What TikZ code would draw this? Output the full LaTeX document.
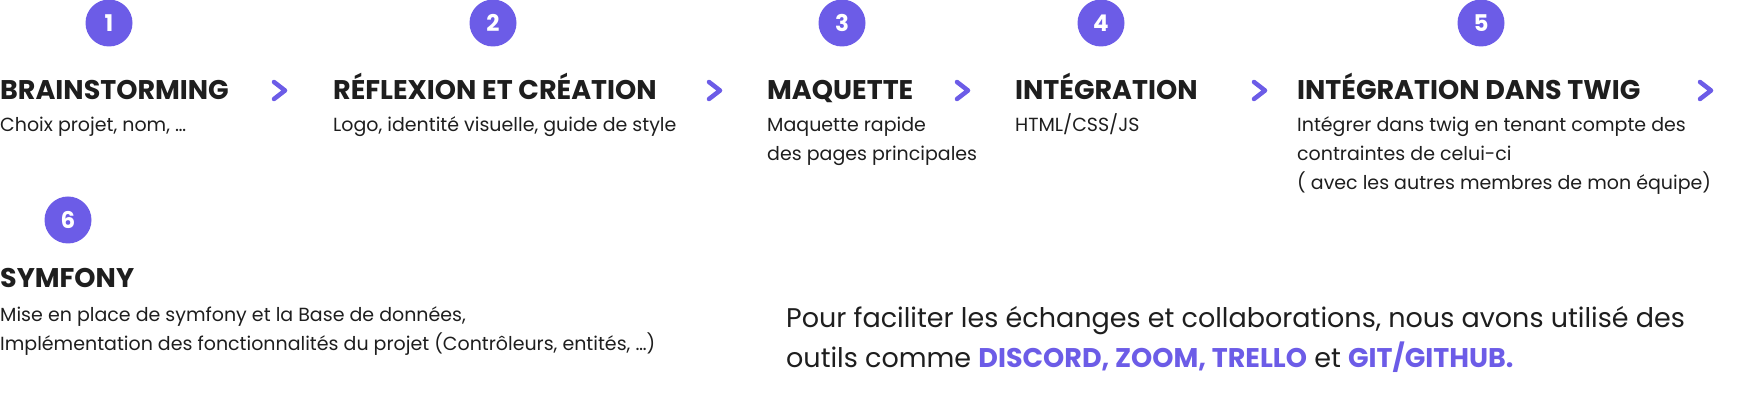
\documentclass[tikz,border=0pt]{standalone}
\usepackage{fontspec}
\setmainfont{Poppins}
\definecolor{purp}{HTML}{6C5CE7}
\definecolor{ink}{HTML}{1E1E1E}
\tikzset{
  num/.style={circle,fill=purp,minimum size=47pt,inner sep=0pt,text=white,font=\fontsize{23}{23}\selectfont\bfseries},
  ttl/.style={anchor=base west,inner sep=0pt,text=ink,font=\fontsize{27}{27}\selectfont\bfseries},
  dsc/.style={anchor=base west,inner sep=0pt,text=ink,font=\fontsize{19}{22}\selectfont},
  par/.style={anchor=base west,inner sep=0pt,text=ink,font=\fontsize{27}{31}\selectfont},
  chev/.style={draw=purp,line width=4.5pt,line cap=round,line join=round}
}
\begin{document}
\begin{tikzpicture}[x=1pt,y=-1pt]
\useasboundingbox (0,0) rectangle (1740,411);
% circles
\node[num] (n1) at (109,23) {1};
\node[num] (n2) at (493,23) {2};
\node[num] (n3) at (842,23) {3};
\node[num] (n4) at (1101,23) {4};
\node[num] (n5) at (1481,23) {5};
\node[num] (n6) at (68,220) {6};
% titles
\node[ttl] (t1) at (0,100) {BRAINSTORMING};
\node[ttl] (t2) at (333,100) {RÉFLEXION ET CRÉATION};
\node[ttl] (t3) at (767,100) {MAQUETTE};
\node[ttl] (t4) at (1015,100) {INTÉGRATION};
\node[ttl] (t5) at (1297,100) {INTÉGRATION DANS TWIG};
\node[ttl] (t6) at (0,288) {SYMFONY};
% chevrons
\foreach \x [count=\i] in {274,709,957,1254,1700}{
  \draw[chev] (\x,82) -- (\x+11,90.5) -- (\x,99);
}
% descriptions
\node[dsc] (d1) at (0,132) {Choix projet, nom, …};
\node[dsc] (d2) at (333,132) {Logo, identité visuelle, guide de style};
\node[dsc] (d3a) at (767,132) {Maquette rapide};
\node[dsc] (d3b) at (767,161) {des pages principales};
\node[dsc] (d4) at (1015,132) {HTML/CSS/JS};
\node[dsc] (d5a) at (1297,132) {Intégrer dans twig en tenant compte des};
\node[dsc] (d5b) at (1297,161) {contraintes de celui-ci};
\node[dsc] (d5c) at (1297,190) {( avec les autres membres de mon équipe)};
\node[dsc] (d6a) at (0,322) {Mise en place de symfony et la Base de données,};
\node[dsc] (d6b) at (0,351) {Implémentation des fonctionnalités du projet (Contrôleurs, entités, …)};
% paragraph
\node[par] (p1) at (786,328) {Pour faciliter les échanges et collaborations, nous avons utilisé des};
\node[par] (p2) at (786,368) {outils comme \textcolor{purp}{\bfseries DISCORD, ZOOM, TRELLO} et \textcolor{purp}{\bfseries GIT/GITHUB.}};
\end{tikzpicture}
\end{document}
